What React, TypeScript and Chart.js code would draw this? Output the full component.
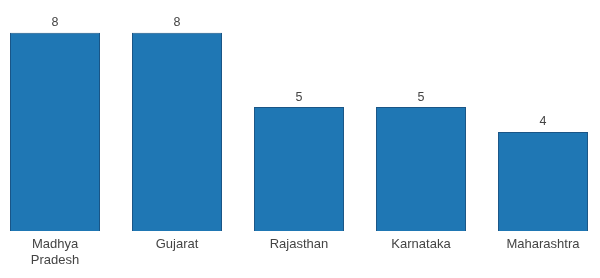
import React, { useEffect, useRef } from "react";
import { Chart, registerables } from "chart.js";

Chart.register(...registerables);

const categories: (string | string[])[] = [["Madhya", "Pradesh"], "Gujarat", "Rajasthan", "Karnataka", "Maharashtra"];
const values: number[] = [8, 8, 5, 5, 4];

const valueLabels = {
  id: "valueLabels",
  afterDatasetsDraw(chart: any) {
    const ctx = chart.ctx;
    const meta = chart.getDatasetMeta(0);
    ctx.save();
    ctx.font = "12.5px 'Liberation Sans', Arial, sans-serif";
    ctx.fillStyle = "#444444";
    ctx.textAlign = "center";
    ctx.textBaseline = "middle";
    meta.data.forEach((el: any, i: number) => {
      ctx.fillText(String(values[i]), el.x, el.y - 10);
    });
    ctx.restore();
  },
};

export default function App() {
  const ref = useRef<HTMLCanvasElement>(null);
  useEffect(() => {
    if (!ref.current) return;
    const chart = new Chart(ref.current, {
      type: "bar",
      data: {
        labels: categories,
        datasets: [
          {
            data: values,
            backgroundColor: "#1f77b4",
            borderColor: "#1a5586",
            borderWidth: 1,
            barPercentage: 0.738,
            categoryPercentage: 1,
          },
        ],
      },
      options: {
        responsive: false,
        animation: false,
        layout: { padding: { top: 8, left: 0, right: 0, bottom: 0 } },
        plugins: { legend: { display: false }, tooltip: { enabled: false } },
        scales: {
          x: {
            grid: { display: false, drawTicks: false },
            border: { display: false },
            ticks: {
              color: "#444444",
              font: { family: "'Liberation Sans', Arial, sans-serif", size: 13, lineHeight: 1.23 },
              padding: 5,
              maxRotation: 0,
              autoSkip: false,
            },
            afterFit: (scale: any) => {
              scale.height = 47;
            },
          },
          y: {
            display: false,
            min: 0,
            max: 9,
          },
        },
      },
      plugins: [valueLabels],
    });
    return () => chart.destroy();
  }, []);
  return (
    <div style={{ position: "fixed", left: 0, top: 0, width: 600, height: 278, overflow: "hidden", background: "#fff" }}>
      <div style={{ position: "absolute", left: -6, top: 0 }}>
        <canvas ref={ref} width={610} height={278} style={{ display: "block" }} />
      </div>
    </div>
  );
}
